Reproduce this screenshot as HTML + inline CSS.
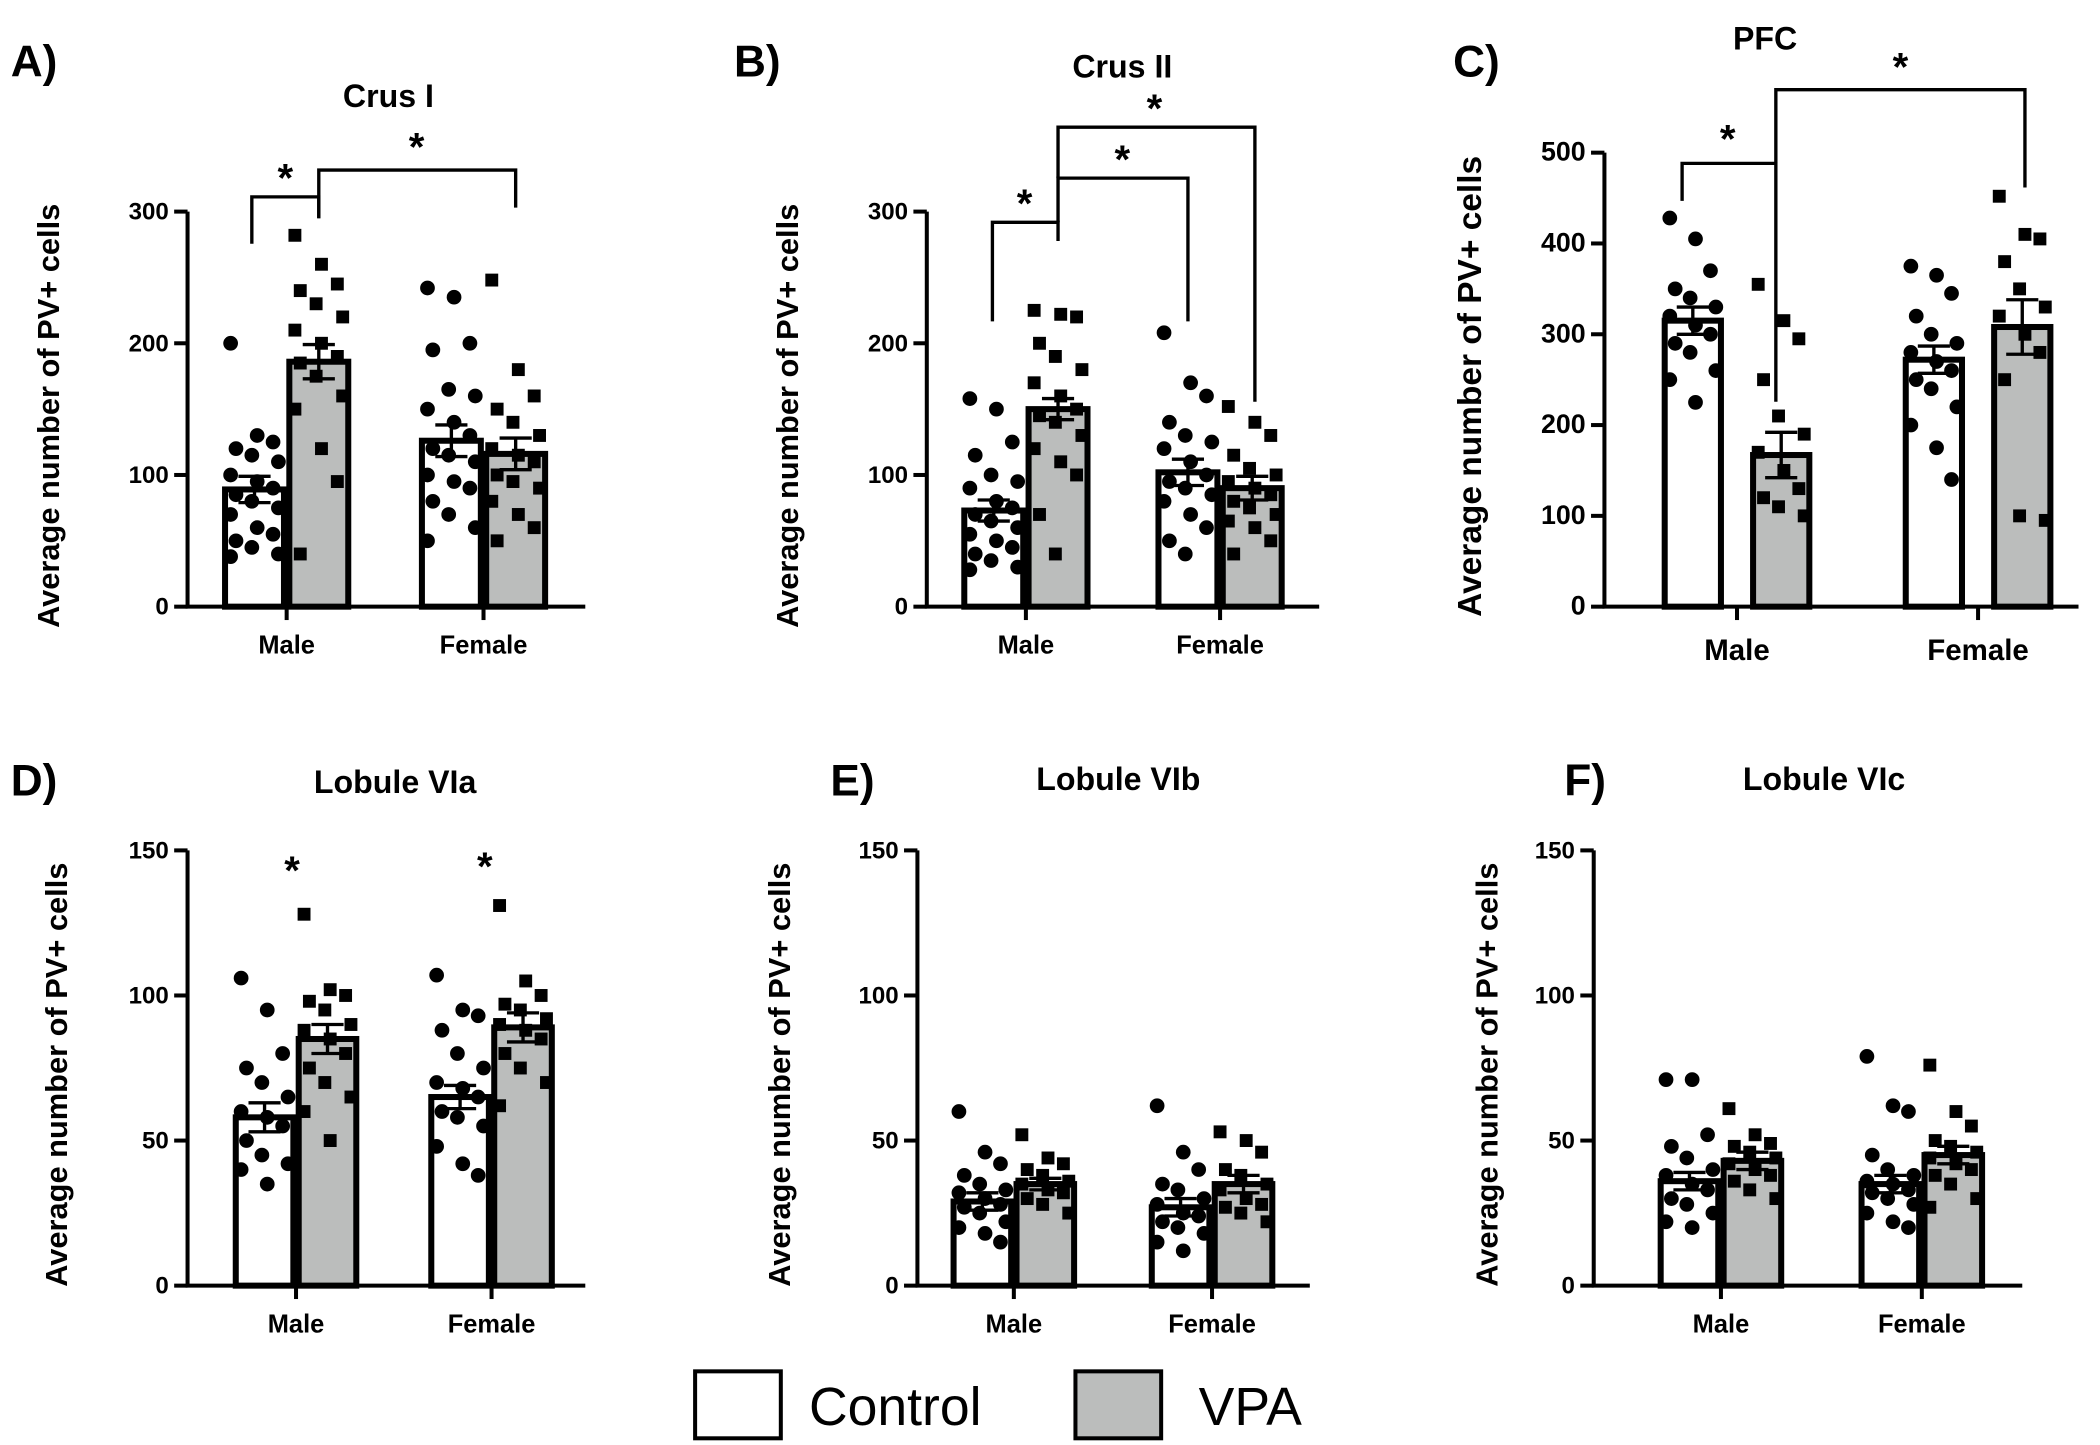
<!DOCTYPE html>
<html><head><meta charset="utf-8"><style>
html,body{margin:0;padding:0;background:#fff}
svg{display:block}
text{font-family:"Liberation Sans",Arial,sans-serif;font-weight:bold;fill:#000}
</style></head><body>
<svg id="fig" width="2100" height="1445" viewBox="0 0 1568 1079" xmlns="http://www.w3.org/2000/svg"></svg>
<script>
const sexCategories = ["Male","Female"];
const groupNames = ["Control","VPA"];
const crus1Means = [89,186,126,116];
const crus1Sems = [10,13,12,12];
const crus1Points = [
 [200,130,125,120,115,110,100,95,90,85,80,75,70,60,55,50,45,40,38],
 [282,260,245,240,230,220,210,200,190,185,175,160,150,120,95,40],
 [242,235,200,195,165,160,150,140,130,120,115,110,100,95,90,80,70,60,50],
 [248,180,160,150,140,130,120,115,110,100,95,90,80,70,60,50]];
const crus2Means = [73,150,102,90];
const crus2Sems = [8,8,10,9];
const crus2Points = [
 [158,150,125,115,100,95,90,80,75,70,65,60,55,50,45,40,35,30,28],
 [225,222,220,200,190,180,170,160,150,145,140,130,120,110,100,70,40],
 [208,170,160,140,130,125,120,110,100,95,90,85,80,70,60,50,40],
 [152,140,130,115,105,100,95,90,85,80,75,70,65,60,50,40]];
const pfcMeans = [315,167,272,308];
const pfcSems = [15,25,15,30];
const pfcPoints = [
 [428,405,370,350,340,330,320,310,300,290,280,260,250,225],
 [355,315,295,250,210,190,170,150,130,120,110,100],
 [375,365,345,320,300,290,280,270,260,250,240,220,200,175,140],
 [452,410,405,380,350,330,320,300,280,250,100,95]];
const viaMeans = [58,85,65,89];
const viaSems = [5,5,4,5];
const viaPoints = [
 [106,95,80,75,70,65,60,58,55,50,45,42,40,35],
 [128,102,100,98,95,90,88,85,80,75,70,65,60,50],
 [107,95,93,88,80,75,70,68,65,60,58,55,48,42,38],
 [131,105,100,97,95,92,90,88,85,80,75,70,62]];
const vibMeans = [29,35,27,35];
const vibSems = [3,2,3,3];
const vibPoints = [
 [60,46,42,38,35,33,32,30,28,27,25,22,20,18,15],
 [52,44,42,40,38,36,35,33,32,30,28,25],
 [62,46,40,35,33,30,28,25,24,22,20,18,15,12],
 [53,50,46,40,38,35,33,30,28,27,25,22]];
const vicMeans = [36,43,35,45];
const vicSems = [3,3,3,3];
const vicPoints = [
 [71,71,52,48,44,40,38,35,33,30,28,25,22,20],
 [61,52,49,48,46,44,42,40,38,36,33,30],
 [79,62,60,45,40,38,36,35,33,32,30,28,25,22,20],
 [76,60,55,50,48,46,44,42,40,38,35,30,27]];
const crusTicks = [0,100,200,300];
const pfcTicks = [0,100,200,300,400,500];
const lobTicks = [0,50,100,150];

const NS="http://www.w3.org/2000/svg";
const svg=document.getElementById('fig');
function mk(tag,attrs,parent){const e=document.createElementNS(NS,tag);for(const k in attrs)e.setAttribute(k,attrs[k]);(parent||svg).appendChild(e);return e;}

function panel(cfg){
  const g=mk('g',{});
  
  
  const ymax=cfg.ticks[cfg.ticks.length-1];
  const Y=v=>cfg.y0-(v/ymax)*(cfg.y0-cfg.yTop);
  const L=mk('text',{x:cfg.letterX,y:cfg.letterY,'font-size':33},g);L.textContent=cfg.letter;
  
  
  const T=mk('text',{x:cfg.titleX,y:cfg.titleY,'font-size':cfg.titleSize||24,'text-anchor':'middle'},g);T.textContent=cfg.title;
  
  
  const yt=mk('text',{x:0,y:0,'font-size':cfg.ylabSize||23,'text-anchor':'middle',transform:`translate(${cfg.ylabX},${(cfg.y0+cfg.yTop)/2+5}) rotate(-90)`},g);
  yt.textContent='Average number of PV+ cells';
  
  
  const bw=cfg.bw;
  const barX=[];
  cfg.centers.forEach((c)=>{barX.push(c-cfg.gap/2-bw, c+cfg.gap/2);});
  const meansArr=cfg.means, semsArr=cfg.sems, ptsArr=cfg.points;
  for(let i=0;i<4;i++){
    const x=barX[i], top=Y(meansArr[i]);
    const r=mk('rect',{x:x+2,y:top,width:bw-4,height:cfg.y0-top,fill:i%2?'#bbbdbc':'#fff',stroke:'#000','stroke-width':4.5},g);
    
    
    const cx=x+bw/2;
    ptsArr[i].forEach((v,k)=>{
      const col=k%3, dx=(col-1)*bw*0.33+((k%2)?2:-2);
      const py=Y(v);
      let p;
      if(i%2===0){p=mk('circle',{cx:cx+dx,cy:py,r:cfg.pr||5.5,fill:'#000'},g);}
      else{const s=(cfg.pr||5.5)*1.75;p=mk('rect',{x:cx+dx-s/2,y:py-s/2,width:s,height:s,fill:'#000'},g);}
      
      
    });
    const e1=Y(meansArr[i]+semsArr[i]), e2=Y(meansArr[i]-semsArr[i]);
    const eb=mk('path',{d:`M${cx},${e1}V${e2}M${cx-12},${e1}H${cx+12}M${cx-12},${e2}H${cx+12}`,stroke:'#000','stroke-width':2.5,fill:'none'},g);
    
    
  }
  const ax=mk('path',{d:`M${cfg.axX},${cfg.yTop}V${cfg.y0}H${cfg.axEnd}`,stroke:'#000','stroke-width':3,fill:'none'},g);
  
  
  cfg.ticks.forEach(t=>{
    mk('line',{x1:cfg.axX-10,x2:cfg.axX,y1:Y(t),y2:Y(t),stroke:'#000','stroke-width':3},g);
    const tl=mk('text',{x:cfg.axX-14,y:Y(t)+6,'font-size':cfg.tickSize||18,'text-anchor':'end'},g);
    tl.textContent=t;
    
    
  });
  cfg.centers.forEach((c,gi)=>{
    mk('line',{x1:c,x2:c,y1:cfg.y0,y2:cfg.y0+10,stroke:'#000','stroke-width':3},g);
    const xl=mk('text',{x:c,y:cfg.y0+(cfg.xlabOff||35),'font-size':cfg.xlabSize||19,'text-anchor':'middle'},g);
    xl.textContent=sexCategories[gi];
    
    
  });
  (cfg.brackets||[]).forEach(b=>{
    const p=mk('path',{d:b.d,stroke:'#000','stroke-width':2.5,fill:'none'},g);
    
    
  });
  (cfg.stars||[]).forEach(s=>{
    const t=mk('text',{x:s[0],y:s[1],'font-size':30,'text-anchor':'middle'},g);t.textContent='*';
    
    
  });
}

panel({name:'crus-i',letter:'A)',letterX:8,letterY:57,title:'Crus I',titleX:290,titleY:80,axX:140,axEnd:437,y0:453,yTop:158,ticks:crusTicks,
  centers:[214,361],gap:0,bw:48,ylabX:44,means:crus1Means,sems:crus1Sems,points:crus1Points,
  brackets:[{d:'M188,182V147H238V163'},{d:'M238,163V127H385V155'}],stars:[[213,143],[311,120]]});
panel({name:'crus-ii',letter:'B)',letterX:548,letterY:57,title:'Crus II',titleX:838,titleY:58,axX:692,axEnd:985,y0:453,yTop:158,ticks:crusTicks,
  centers:[766,911],gap:0,bw:48,ylabX:596,means:crus2Means,sems:crus2Sems,points:crus2Points,
  brackets:[{d:'M741,240V166H790V180'},{d:'M790,166V133H887V240'},{d:'M790,133V95H937V300'}],stars:[[765,162],[838,129],[862,91]]});
panel({name:'pfc',letter:'C)',letterX:1085,letterY:57,title:'PFC',titleX:1318,titleY:37,axX:1198,axEnd:1552,y0:453,yTop:114,ticks:pfcTicks,
  centers:[1297,1477],gap:20,bw:46,ylabX:1106,ylabSize:25,tickSize:20,xlabSize:22,xlabOff:40,means:pfcMeans,sems:pfcSems,points:pfcPoints,
  brackets:[{d:'M1256,150V122H1326V300'},{d:'M1326,122V67H1512V140'}],stars:[[1290,114],[1419,60]]});
panel({name:'lobule-via',letter:'D)',letterX:8,letterY:594,title:'Lobule VIa',titleX:295,titleY:592,axX:140,axEnd:437,y0:960,yTop:635,ticks:lobTicks,
  centers:[221,367],gap:0,bw:47,ylabX:50,means:viaMeans,sems:viaSems,points:viaPoints,
  stars:[[218,660],[362,657]]});
panel({name:'lobule-vib',letter:'E)',letterX:620,letterY:594,title:'Lobule VIb',titleX:835,titleY:590,axX:685,axEnd:978,y0:960,yTop:635,ticks:lobTicks,
  centers:[757,905],gap:0,bw:47,ylabX:590,means:vibMeans,sems:vibSems,points:vibPoints});
panel({name:'lobule-vic',letter:'F)',letterX:1168,letterY:594,title:'Lobule VIc',titleX:1362,titleY:590,axX:1190,axEnd:1510,y0:960,yTop:635,ticks:lobTicks,
  centers:[1285,1435],gap:0,bw:47,ylabX:1118,means:vicMeans,sems:vicSems,points:vicPoints});

const lg=mk('g',{});


const b1=mk('rect',{x:519,y:1024,width:64,height:50,fill:'#fff',stroke:'#000','stroke-width':3},lg);


const t1=mk('text',{x:604,y:1064,'font-size':40,style:'font-weight:normal'},lg);t1.textContent='Control';


const b2=mk('rect',{x:803,y:1024,width:64,height:50,fill:'#bbbdbc',stroke:'#000','stroke-width':3},lg);


const t2=mk('text',{x:895,y:1064,'font-size':40,style:'font-weight:normal'},lg);t2.textContent='VPA';


</script>
</body></html>
